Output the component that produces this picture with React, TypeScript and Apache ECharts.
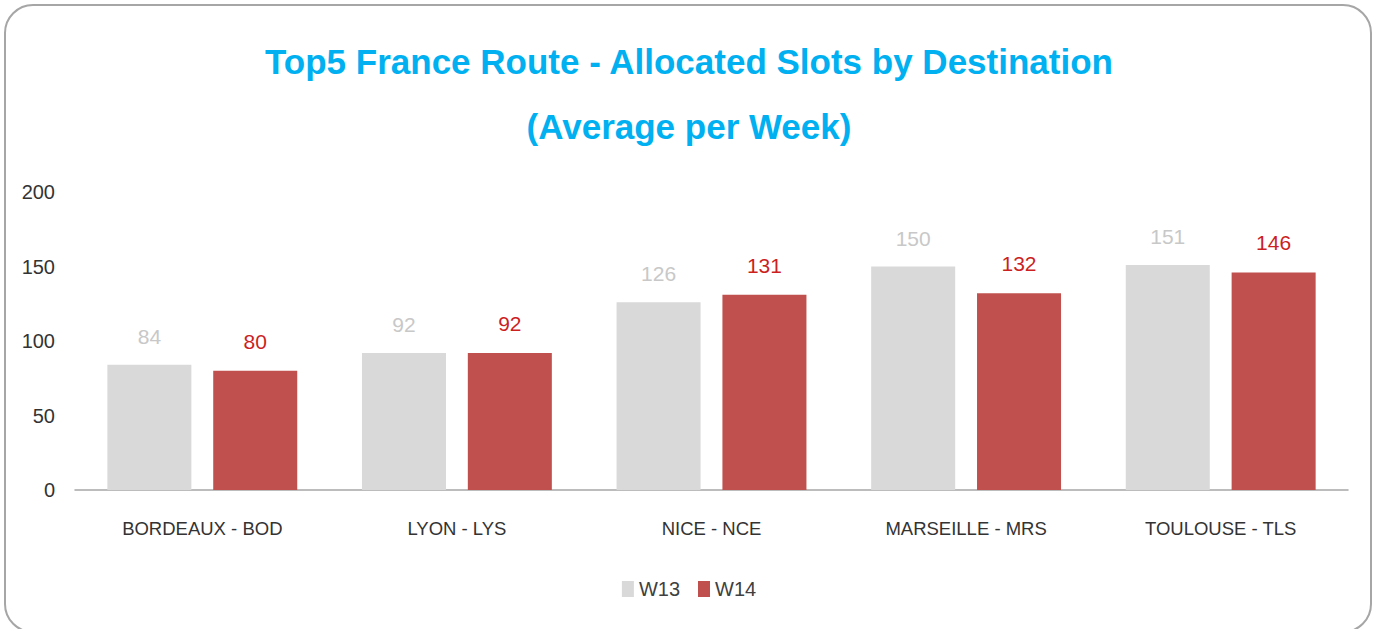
import React, { useEffect, useRef } from "react";
import * as echarts from "echarts";

const categories = ["BORDEAUX - BOD", "LYON - LYS", "NICE - NCE", "MARSEILLE - MRS", "TOULOUSE - TLS"];
const w13 = [84, 92, 126, 150, 151];
const w14 = [80, 92, 131, 132, 146];
const seriesNames = ["W13", "W14"];
const yTicks = { min: 0, max: 200, interval: 50 };

const FONT = "'Liberation Sans', Arial, sans-serif";

export default function App() {
  const ref = useRef<HTMLDivElement>(null);
  useEffect(() => {
    document.body.style.margin = "0";
    const chart = echarts.init(ref.current!, null, { renderer: "svg" });
    chart.setOption({
      animation: false,
      backgroundColor: "#ffffff",
      graphic: [
        {
          type: "rect",
          shape: { x: 5, y: 5, width: 1366, height: 627, r: 28 },
          style: { fill: "none", stroke: "#A6A6A6", lineWidth: 2 },
          silent: true,
          z: -1,
        },
      ],
      title: {
        text: "Top5 France Route - Allocated Slots by Destination\n(Average per Week)",
        left: "center",
        top: 24,
        textStyle: {
          color: "#00B0F0",
          fontFamily: FONT,
          fontWeight: "bold",
          fontSize: 35,
          lineHeight: 65,
        },
      },
      legend: {
        data: seriesNames,
        bottom: 25,
        left: "center",
        itemWidth: 12,
        itemHeight: 16,
        itemGap: 18,
        icon: "rect",
        textStyle: { color: "#404040", fontFamily: FONT, fontSize: 20 },
      },
      grid: { left: 75, right: 30, top: 192, bottom: 139, containLabel: false },
      xAxis: {
        type: "category",
        data: categories,
        axisLine: { lineStyle: { color: "#A6A6A6", width: 1.5 } },
        axisTick: { show: false },
        axisLabel: { color: "#333333", fontFamily: FONT, fontSize: 18.5, margin: 29 },
      },
      yAxis: {
        type: "value",
        min: yTicks.min,
        max: yTicks.max,
        interval: yTicks.interval,
        axisLine: { show: false },
        axisTick: { show: false },
        splitLine: { show: false },
        axisLabel: { color: "#333333", fontFamily: FONT, fontSize: 20, margin: 20 },
      },
      series: [
        {
          name: seriesNames[0],
          type: "bar",
          data: w13,
          barWidth: "33%",
          barGap: "26%",
          itemStyle: { color: "#D9D9D9" },
          label: {
            show: true,
            position: "top",
            distance: 18,
            color: "#C8C8C8",
            fontFamily: FONT,
            fontSize: 21,
          },
        },
        {
          name: seriesNames[1],
          type: "bar",
          data: w14,
          barWidth: "33%",
          itemStyle: { color: "#C0504D" },
          label: {
            show: true,
            position: "top",
            distance: 19,
            color: "#CC1F1F",
            fontFamily: FONT,
            fontSize: 21,
          },
        },
      ],
    });
    return () => chart.dispose();
  }, []);
  return <div ref={ref} style={{ width: 1378, height: 629 }} />;
}
